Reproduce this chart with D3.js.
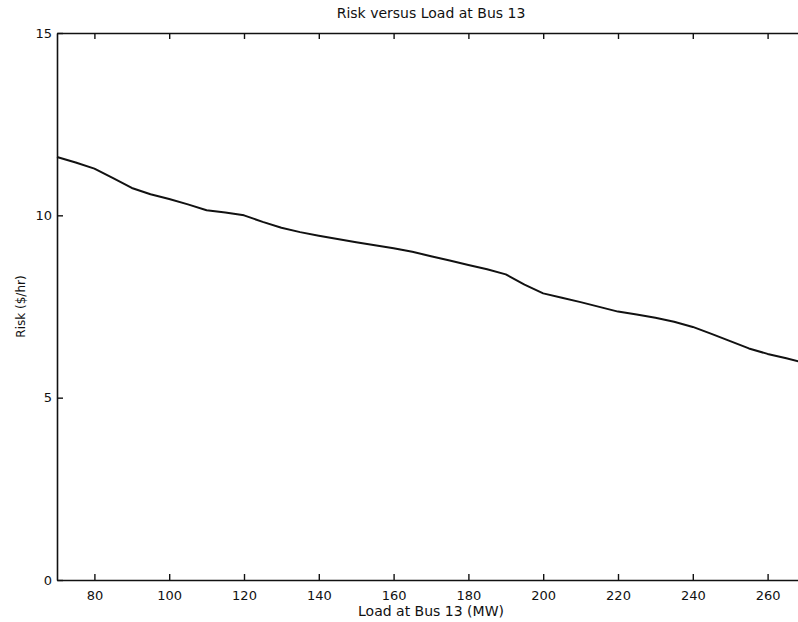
<!DOCTYPE html>
<html>
<head>
<meta charset="utf-8">
<script src="https://cdn.jsdelivr.net/npm/d3@7"></script>
<style>
  body { margin: 0; background: #fff; }
  svg { display: block; }
  text { font-family: "DejaVu Sans", Arial, sans-serif; fill: #111; }
</style>
</head>
<body>
<svg id="chart"></svg>
<script>
// load at bus 13 (MW) and the risk ($/hr)
const loads = [70, 75, 80, 85, 90, 95, 100, 105, 110, 115, 120, 125, 130, 135, 140, 145, 150, 155, 160, 165,
  170, 175, 180, 185, 190, 195, 200, 205, 210, 215, 220, 225, 230, 235, 240, 245, 250, 255, 260, 265, 270];
const risk = [11.6, 11.45, 11.28, 11.02, 10.75, 10.58, 10.45, 10.3, 10.14, 10.08, 10.0, 9.82, 9.66, 9.54, 9.44, 9.35, 9.26, 9.18, 9.1, 9.0,
  8.88, 8.76, 8.64, 8.52, 8.38, 8.1, 7.86, 7.74, 7.62, 7.49, 7.36, 7.28, 7.19, 7.08, 6.94, 6.75, 6.55, 6.35, 6.2, 6.08, 5.95];
const xTicks = [80, 100, 120, 140, 160, 180, 200, 220, 240, 260];
const yTicks = [0, 5, 10, 15];

const width = 798, height = 622;
// plot box runs a bit past the right edge, like the scan
const margin = { left: 57, top: 33, right: -7, bottom: 42 };

const svg = d3.select('#chart').attr('width', width).attr('height', height);

const x = d3.scaleLinear().domain([70, 270]).range([margin.left, width - margin.right]);
const y = d3.scaleLinear().domain([0, 15]).range([height - margin.bottom, margin.top]);

// axes, ticks pointing inward
const axBottom = svg.append('g')
  .attr('transform', `translate(0,${y(0)})`)
  .call(d3.axisBottom(x).tickValues(xTicks).tickSizeInner(-6).tickSizeOuter(0).tickPadding(11));
const axTop = svg.append('g')
  .attr('transform', `translate(0,${y(15)})`)
  .call(d3.axisTop(x).tickValues(xTicks).tickSizeInner(-6).tickSizeOuter(0).tickFormat(''));
const axLeft = svg.append('g')
  .attr('transform', `translate(${x(70)},0)`)
  .call(d3.axisLeft(y).tickValues(yTicks).tickSizeInner(-6).tickSizeOuter(0).tickPadding(5));
const axRight = svg.append('g')
  .attr('transform', `translate(${x(270)},0)`)
  .call(d3.axisRight(y).tickValues(yTicks).tickSizeInner(-6).tickSizeOuter(0).tickFormat(''));

[axBottom, axTop, axLeft, axRight].forEach(g => {
  g.select('.domain').attr('stroke', '#111').attr('stroke-width', 1.6);
  g.selectAll('.tick line').attr('stroke', '#111').attr('stroke-width', 1.4);
  g.selectAll('.tick text').attr('font-size', 13).attr('fill', '#111')
    .attr('font-family', '"DejaVu Sans", Arial, sans-serif');
});

// the curve
const line = d3.line()
  .x((d, i) => x(loads[i]))
  .y(d => y(d));

svg.append('path')
  .datum(risk)
  .attr('fill', 'none')
  .attr('stroke', '#111')
  .attr('stroke-width', 2)
  .attr('stroke-linejoin', 'round')
  .attr('d', line);

// title + labels
svg.append('text')
  .attr('x', (x(70) + x(270)) / 2)
  .attr('y', 18)
  .attr('text-anchor', 'middle')
  .attr('font-size', 14)
  .text('Risk versus Load at Bus 13');

svg.append('text')
  .attr('x', (x(70) + x(270)) / 2)
  .attr('y', 616)
  .attr('text-anchor', 'middle')
  .attr('font-size', 14)
  .text('Load at Bus 13 (MW)');

svg.append('text')
  .attr('transform', `translate(25,${(y(0) + y(15)) / 2}) rotate(-90)`)
  .attr('text-anchor', 'middle')
  .attr('font-size', 12)
  .text('Risk ($/hr)');
</script>
</body>
</html>
